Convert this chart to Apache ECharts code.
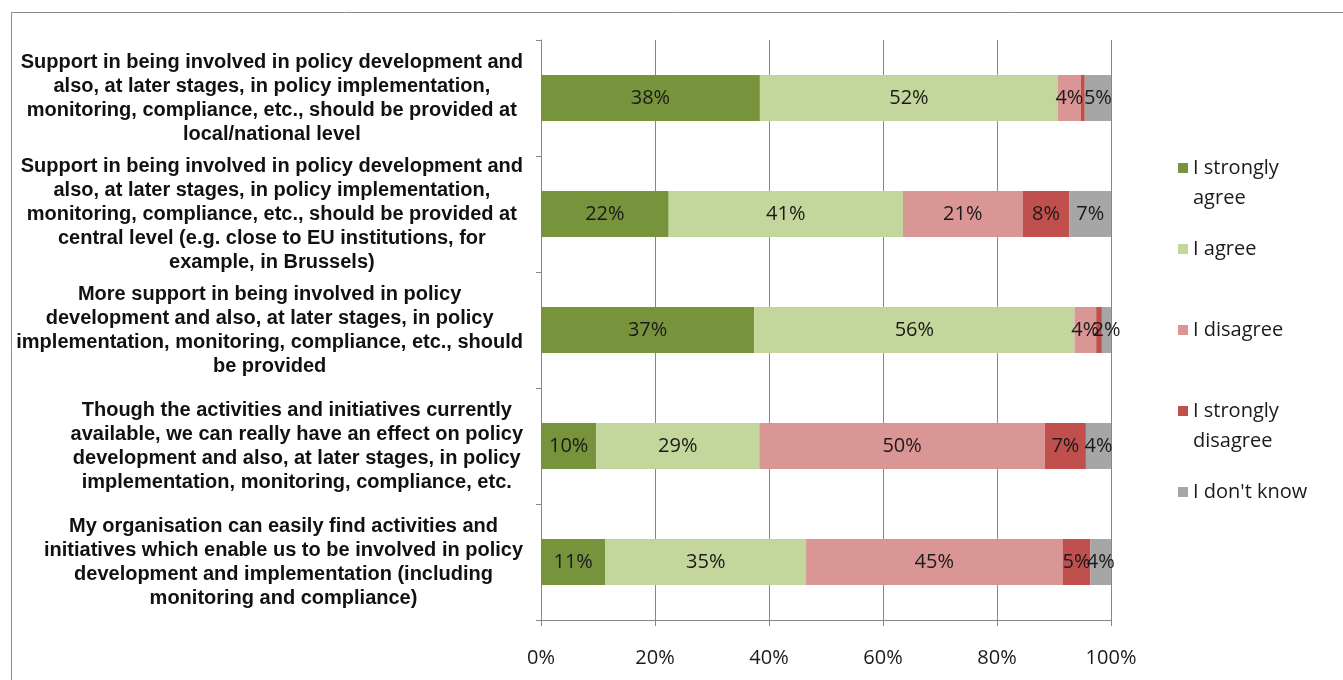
<!DOCTYPE html>
<html>
<head>
<meta charset="utf-8">
<script src="https://cdn.jsdelivr.net/npm/echarts@6/dist/echarts.min.js"></script>
<style>
html,body{margin:0;padding:0;background:#fff;}
#chart{width:1343px;height:680px;}
</style>
</head>
<body>
<div id="chart"></div>
<script>
const categories = [
  "Support in being involved in policy development and\nalso, at later stages, in policy implementation,\nmonitoring, compliance, etc., should be provided at\nlocal/national level",
  "Support in being involved in policy development and\nalso, at later stages, in policy implementation,\nmonitoring, compliance, etc., should be provided at\ncentral level (e.g. close to EU institutions, for\nexample, in Brussels)",
  "More support in being involved in policy\ndevelopment and also, at later stages, in policy\nimplementation, monitoring, compliance, etc., should\nbe provided",
  "Though the activities and initiatives currently\navailable, we can really have an effect on policy\ndevelopment and also, at later stages, in policy\nimplementation, monitoring, compliance, etc.",
  "My organisation can easily find activities and\ninitiatives which enable us to be involved in policy\ndevelopment and implementation (including\nmonitoring and compliance)"
];
const seriesNames = ["I strongly agree", "I agree", "I disagree", "I strongly disagree", "I don't know"];
const legendLabels = ["\u00a0\nI strongly\nagree", "I agree", "I disagree", "\u00a0\nI strongly\ndisagree", "I don't know"];
const stronglyAgree    = [38.4, 22.4, 37.4, 9.7, 11.3];
const agree            = [52.3, 41.1, 56.2, 28.6, 35.2];
const disagree         = [4.0, 21.0, 3.8, 50.1, 45.0];
const stronglyDisagree = [0.7, 8.2, 1.0, 7.2, 4.9];
const dontKnow         = [4.6, 7.3, 1.6, 4.4, 3.6];
const xTicks = [0, 20, 40, 60, 80, 100];

const seriesData = [stronglyAgree, agree, disagree, stronglyDisagree, dontKnow];
const colors = ["#77933C", "#C3D69B", "#D99694", "#C0504D", "#A6A6A6"];
const calibriLike = "'Open Sans', sans-serif";

const chart = echarts.init(document.getElementById('chart'));

const legendCenters = [168, 249, 330, 411, 492];
const legends = seriesNames.map((n, i) => {
  const lines = legendLabels[i].split('\n').length;
  return {
    data: [n],
    orient: 'vertical',
    left: 1178,
    top: legendCenters[i] - lines * 15,
    padding: 0,
    itemWidth: 10,
    itemHeight: 10,
    icon: 'rect',
    formatter: () => legendLabels[i],
    textStyle: {fontFamily: calibriLike, fontSize: 20, color: '#1a1a1a', lineHeight: 30}
  };
});

const option = {
  backgroundColor: '#ffffff',
  animation: false,
  color: colors,
  graphic: [{
    type: 'rect', left: 9, top: 10, silent: true,
    shape: {width: 1400, height: 700},
    style: {fill: 'none', stroke: '#8c8c8c', lineWidth: 1}
  }],
  legend: legends,
  grid: {left: 541, right: 232, top: 40, bottom: 60, containLabel: false},
  xAxis: {
    type: 'value', min: xTicks[0], max: xTicks[xTicks.length - 1], interval: 20,
    axisLine: {show: true, lineStyle: {color: '#868686'}},
    axisTick: {show: true, length: 6, lineStyle: {color: '#868686'}},
    splitLine: {show: true, lineStyle: {color: '#868686', width: 1}},
    axisLabel: {formatter: '{value}%', fontFamily: calibriLike, fontSize: 20, color: '#1a1a1a', margin: 28}
  },
  yAxis: {
    type: 'category', data: categories, inverse: true,
    axisLine: {show: true, lineStyle: {color: '#868686'}},
    axisTick: {show: true, length: 5, lineStyle: {color: '#868686'}},
    splitLine: {show: false},
    axisLabel: {
      interval: 0, align: 'right', margin: 18,
      formatter: v => v.split('\n').map(l => '{c|' + l + '}').join('\n'),
      rich: {c: {align: 'center', fontFamily: "'Liberation Sans', Arial, sans-serif", fontWeight: 'bold', fontSize: 20, lineHeight: 24, color: '#111'}}
    }
  },
  series: seriesNames.map((n, i) => ({
    name: n, type: 'bar', stack: 'total', barWidth: 46,
    data: seriesData[i],
    itemStyle: {color: colors[i]},
    label: {
      show: true, position: 'inside',
      fontFamily: calibriLike, fontSize: 20, color: '#1a1a1a',
      formatter: p => p.value >= 1.5 ? Math.round(p.value) + '%' : ''
    }
  }))
};
chart.setOption(option);
</script>
</body>
</html>
